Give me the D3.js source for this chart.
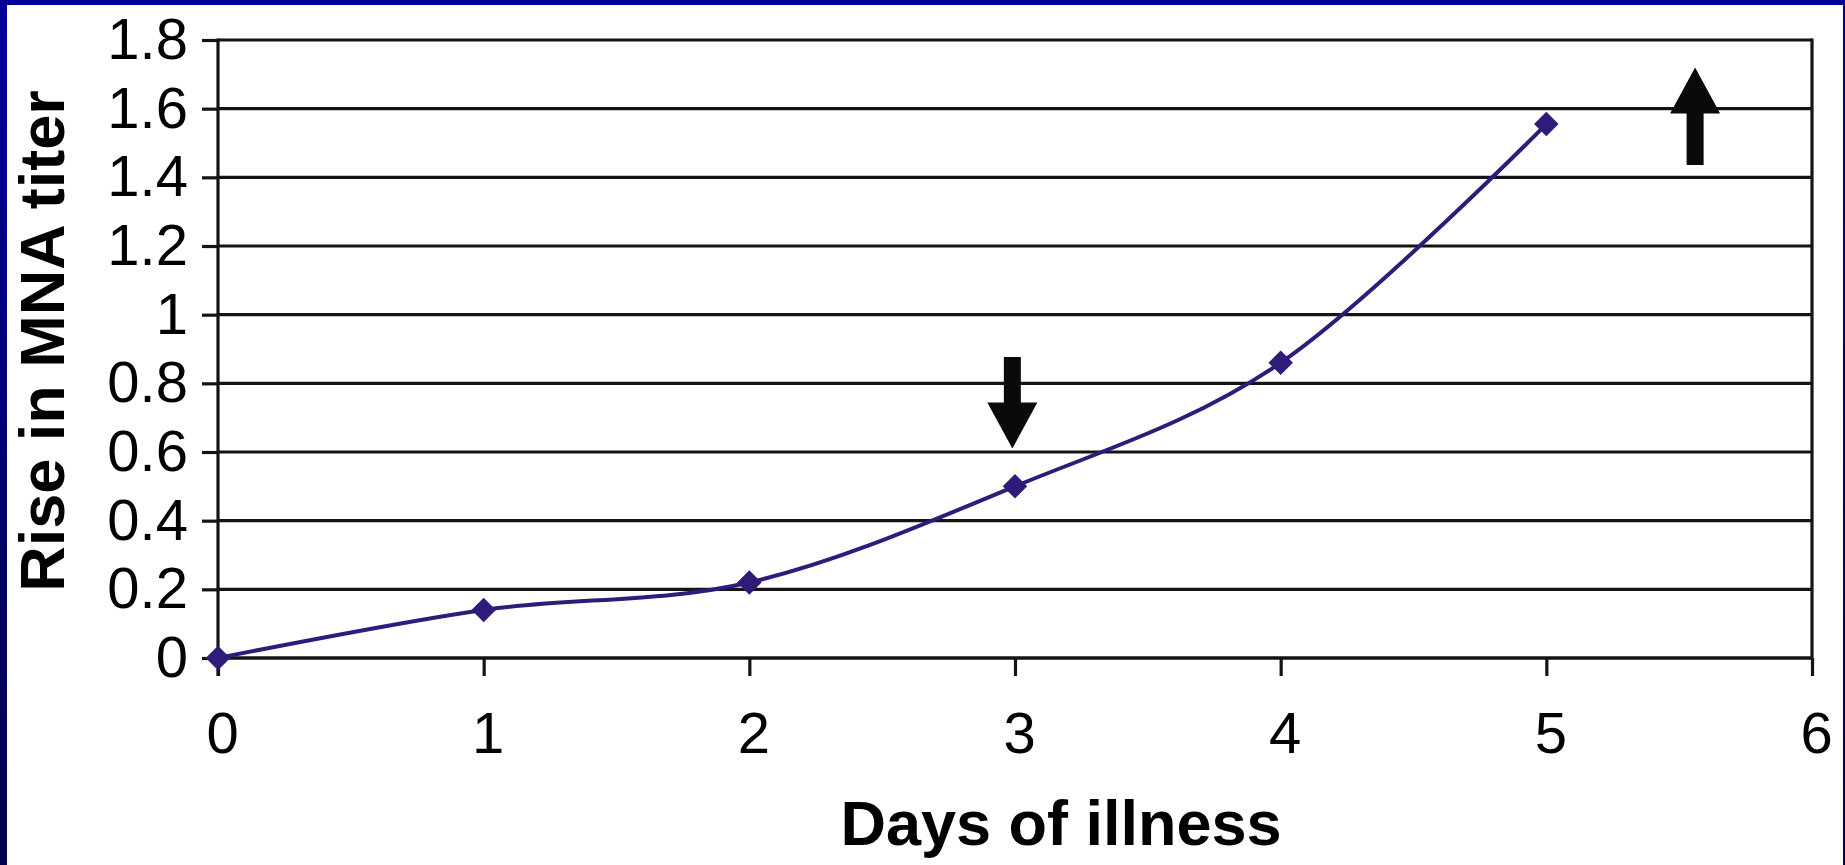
<!DOCTYPE html>
<html>
<head>
<meta charset="utf-8">
<script src="https://cdn.jsdelivr.net/npm/d3@7"></script>
<style>
  html, body { margin: 0; padding: 0; background: #fff; }
  svg { display: block; }
  text { font-family: "Liberation Sans", Arial, Helvetica, sans-serif; }
</style>
</head>
<body>
<svg id="chart" width="1845" height="865"></svg>
<script>
// ---- data ----
const days = [0, 1, 2, 3, 4, 5];
const riseInTiter = [0, 0.14, 0.22, 0.50, 0.86, 1.555];
const xTickValues = [0, 1, 2, 3, 4, 5, 6];
const xTickLabels = ["0", "1", "2", "3", "4", "5", "6"];
const yTickValues = [0, 0.2, 0.4, 0.6, 0.8, 1.0, 1.2, 1.4, 1.6, 1.8];
const yTickLabels = ["0", "0.2", "0.4", "0.6", "0.8", "1", "1.2", "1.4", "1.6", "1.8"];
const arrowX = [2.99, 5.56];
const arrowTip = [0.61, 1.72];
const arrowTail = [0.877, 1.436];
const xTitle = "Days of illness";
const yTitle = "Rise in MNA titer";

(function () {
// ---- layout ----
const W = 1845, H = 865;
const mLeft = 218, mRight = 1812, mTop = 40, mBottom = 658;
const svg = d3.select("#chart");

// frame with navy border
const defs = svg.append("defs");
const grad = defs.append("linearGradient").attr("id", "navy").attr("x1", 0).attr("y1", 0).attr("x2", 0).attr("y2", 1);
grad.append("stop").attr("offset", "0%").attr("stop-color", "#000099");
grad.append("stop").attr("offset", "100%").attr("stop-color", "#00004f");
svg.append("rect").attr("width", W).attr("height", H).attr("fill", "url(#navy)");
svg.append("rect").attr("x", 7).attr("y", 5).attr("width", 1843 - 7).attr("height", H - 5).attr("fill", "#fff");

const x = d3.scaleLinear().domain([0, 6]).range([mLeft, mRight]);
const y = d3.scaleLinear().domain([0, 1.8]).range([mBottom, mTop]);

const lineColor = "#2f1c7a";
const axisColor = "#141414";

// gridlines
svg.append("g")
  .selectAll("line")
  .data(yTickValues)
  .join("line")
  .attr("x1", x(0)).attr("x2", x(6))
  .attr("y1", d => y(d)).attr("y2", d => y(d))
  .attr("stroke", axisColor).attr("stroke-width", 3.2);

// right border of plot
svg.append("line")
  .attr("x1", x(6)).attr("x2", x(6))
  .attr("y1", y(1.8) - 1.6).attr("y2", y(0))
  .attr("stroke", axisColor).attr("stroke-width", 3.2);

// y axis
const yAxis = d3.axisLeft(y)
  .tickValues(yTickValues)
  .tickFormat((d, i) => yTickLabels[i])
  .tickSize(16)
  .tickPadding(14);
const gy = svg.append("g").attr("transform", `translate(${mLeft},0)`).call(yAxis);
gy.select(".domain").attr("d", `M0,${y(1.8) - 1.6}V${y(0) + 18}`).attr("stroke", axisColor).attr("stroke-width", 3.2);
gy.selectAll(".tick line").attr("stroke", axisColor).attr("stroke-width", 3.2);
gy.selectAll(".tick text")
  .attr("font-size", 58)
  .attr("fill", "#000")
  .attr("font-family", "'Liberation Sans', Arial, sans-serif");

// x axis
const xAxis = d3.axisBottom(x)
  .tickValues(xTickValues)
  .tickFormat((d, i) => xTickLabels[i])
  .tickSize(18)
  .tickPadding(36);
const gx = svg.append("g").attr("transform", `translate(0,${mBottom})`).call(xAxis);
gx.select(".domain").attr("d", `M${x(0)},0H${x(6)}`).attr("stroke", axisColor).attr("stroke-width", 3.2);
gx.selectAll(".tick line").attr("stroke", axisColor).attr("stroke-width", 3.2);
gx.selectAll(".tick text")
  .attr("font-size", 58)
  .attr("dx", 4)
  .attr("fill", "#000")
  .attr("font-family", "'Liberation Sans', Arial, sans-serif");

// series line
const pts = days.map((d, i) => [d, riseInTiter[i]]);
const line = d3.line()
  .x(d => x(d[0]))
  .y(d => y(d[1]))
  .curve(d3.curveCatmullRom.alpha(0));
svg.append("path")
  .datum(pts)
  .attr("d", line)
  .attr("fill", "none")
  .attr("stroke", lineColor)
  .attr("stroke-width", 4);

// diamond markers
const diamond = d3.symbol().type(d3.symbolSquare).size(300);
svg.append("g")
  .selectAll("path")
  .data(pts)
  .join("path")
  .attr("d", diamond)
  .attr("transform", d => `translate(${x(d[0])},${y(d[1])}) rotate(45)`)
  .attr("fill", lineColor);

// arrows
const shaftHalf = 8.5, headHalf = 25, headLen = 46;
svg.append("g")
  .selectAll("path")
  .data(arrowX.map((ax, i) => ({ ax, tip: arrowTip[i], tail: arrowTail[i] })))
  .join("path")
  .attr("d", d => {
    const cx = x(d.ax), ty = y(d.tip), ly = y(d.tail);
    const dir = ly > ty ? 1 : -1;
    const hb = ty + dir * headLen;
    return `M${cx},${ty}L${cx + headHalf},${hb}L${cx + shaftHalf},${hb}L${cx + shaftHalf},${ly}` +
           `L${cx - shaftHalf},${ly}L${cx - shaftHalf},${hb}L${cx - headHalf},${hb}Z`;
  })
  .attr("fill", "#0a0a0a");

// axis titles
svg.append("text")
  .attr("x", 1061).attr("y", 845)
  .attr("text-anchor", "middle")
  .attr("font-size", 63)
  .attr("font-weight", "bold")
  .attr("fill", "#000")
  .text(xTitle);

svg.append("text")
  .attr("transform", "translate(64,341) rotate(-90)")
  .attr("text-anchor", "middle")
  .attr("font-size", 63)
  .attr("font-weight", "bold")
  .attr("fill", "#000")
  .text(yTitle);
})();
</script>
</body>
</html>
